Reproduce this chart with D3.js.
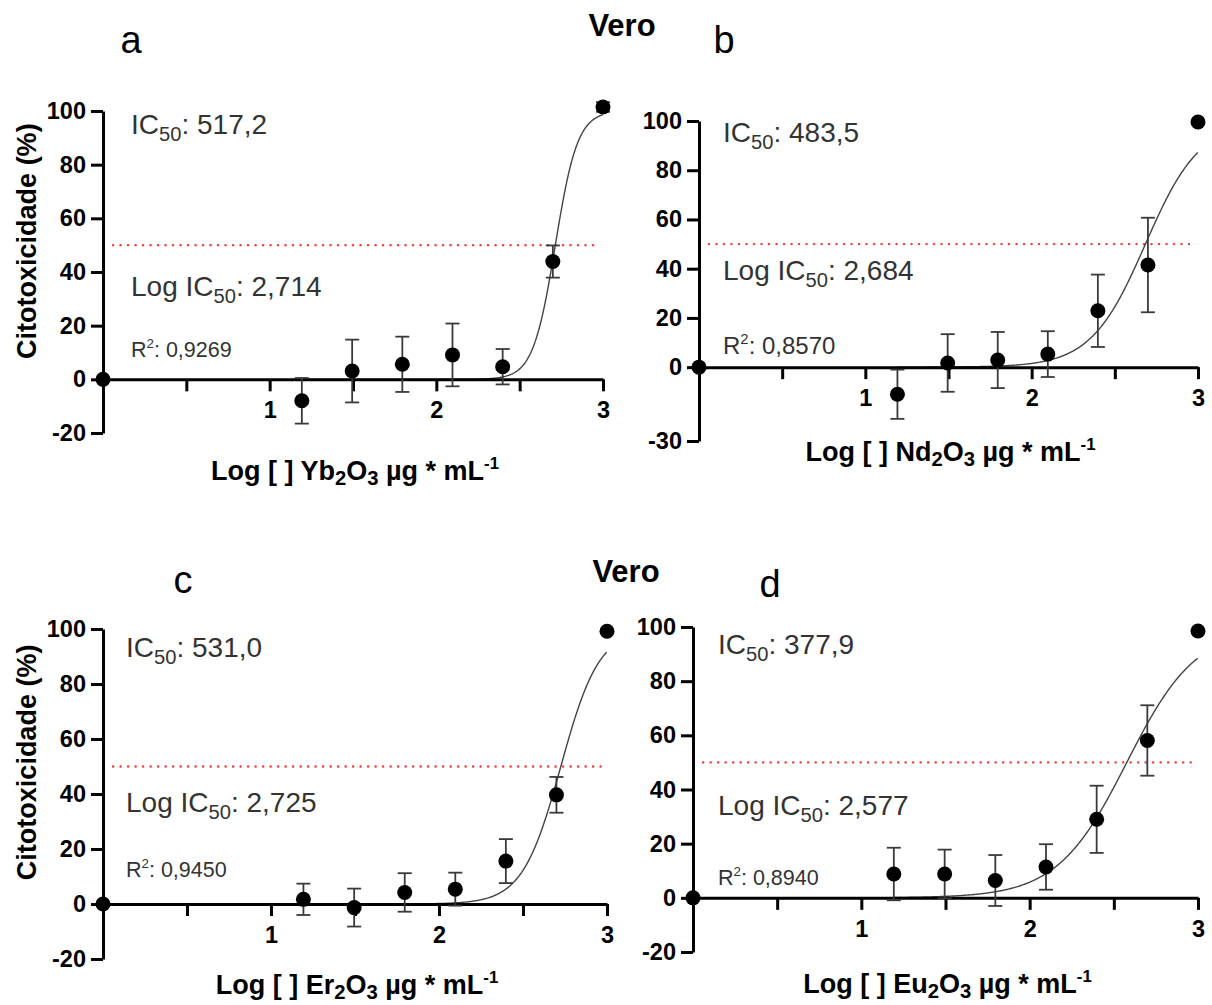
<!DOCTYPE html>
<html>
<head>
<meta charset="utf-8">
<script src="https://cdn.jsdelivr.net/npm/d3@7"></script>
<style>
  html, body { margin: 0; padding: 0; background: #fff; }
  svg { display: block; font-family: "Liberation Sans", Arial, sans-serif; }
</style>
</head>
<body>
<svg id="chart" width="1212" height="1005"></svg>
<script>
// Log10 concentration of each tested dose (0 = untreated control)
const logDose = [0, 1.193, 1.495, 1.796, 2.097, 2.398, 2.699, 3.0];

// Mean cytotoxicity (%) and standard deviation for each oxide
const meanYb = [0, -8.0, 3.1, 5.6, 9.1, 4.7, 43.9, 101.5];
const sdYb   = [0, 8.5, 11.7, 10.3, 11.7, 6.6, 6.0, 1.8];
const meanNd = [0, -11.0, 1.7, 2.9, 5.3, 22.9, 41.5, 99.6];
const sdNd   = [0, 10.0, 11.7, 11.4, 9.3, 14.7, 19.2, 0];
const meanEr = [0, 1.7, -1.3, 4.2, 5.4, 15.6, 39.7, 99.2];
const sdEr   = [0, 5.7, 6.9, 7.0, 6.0, 8.0, 6.5, 0];
const meanEu = [0, 8.8, 8.8, 6.4, 11.4, 29.0, 58.1, 98.5];
const sdEu   = [0, 9.7, 9.0, 9.4, 8.4, 12.4, 13.0, 0];

// Dose-response fit results (bottom 0, top 100)
const logIC50 = [2.714, 2.684, 2.725, 2.577];
const hillSlope = [6.5, 2.65, 3.8, 2.1];
const ic50Text = ["517,2", "483,5", "531,0", "377,9"];
const logIC50Text = ["2,714", "2,684", "2,725", "2,577"];
const r2Text = ["0,9269", "0,8570", "0,9450", "0,8940"];

// Panel labels and axis annotations
const panelLetters = ["a", "b", "c", "d"];
const oxideSymbol = [["Yb", "O"], ["Nd", "O"], ["Er", "O"], ["Eu", "O"]];
const yTicksA = [-20, 0, 20, 40, 60, 80, 100];
const yTicksB = [-30, 0, 20, 40, 60, 80, 100];
const xTicks = [0.5, 1, 1.5, 2, 2.5, 3];
const xTickLabels = ["", "1", "", "2", "", "3"];
const cellLine = "Vero";

const series = [
  { mean: meanYb, sd: sdYb, yTicks: yTicksA },
  { mean: meanNd, sd: sdNd, yTicks: yTicksB },
  { mean: meanEr, sd: sdEr, yTicks: yTicksA },
  { mean: meanEu, sd: sdEu, yTicks: yTicksA }
];

// Frame of each panel on the page
const layout = [
  { x0: 103, x3: 603, yTop: 111, yBot: 433, yAxisTitle: true, letter: [131, 53], vero: [622, 36],
    txt: [131, 134, 296, 357], r2size: 21.5, xTitleY: 480 },
  { x0: 699, x3: 1198, yTop: 121, yBot: 441, yAxisTitle: false, letter: [724, 53], vero: null,
    txt: [723, 142, 280, 354], r2size: 24, xTitleY: 461 },
  { x0: 103, x3: 607, yTop: 629, yBot: 959, yAxisTitle: true, letter: [183, 593], vero: [626, 582],
    txt: [126, 657, 812, 877], r2size: 21.5, xTitleY: 994 },
  { x0: 693, x3: 1198, yTop: 627, yBot: 952, yAxisTitle: false, letter: [770, 597], vero: null,
    txt: [718, 654, 815, 885], r2size: 21.5, xTitleY: 993 }
];

const svg = d3.select("#chart");

// Append a text element made of plain / subscript / superscript runs
function richText(g, x, y, parts, size, opts = {}) {
  const subScale = opts.subScale || 0.72;
  const subDrop = opts.subDrop || 0.24;
  const t = g.append("text")
    .attr("x", x).attr("y", y)
    .attr("font-size", size)
    .attr("font-weight", opts.bold ? "bold" : "normal")
    .attr("fill", opts.fill || "#000")
    .attr("text-anchor", opts.anchor || "start");
  let shift = 0;
  parts.forEach(p => {
    const s = t.append("tspan").text(p.t);
    let target = 0;
    if (p.sub) { s.attr("font-size", size * subScale); target = size * subDrop; }
    else if (p.sup) { s.attr("font-size", size * 0.62); target = -size * 0.42; }
    if (target - shift !== 0) s.attr("dy", target - shift);
    shift = target;
  });
  return t;
}

series.forEach((s, i) => {
  const L = layout[i];
  const g = svg.append("g");
  const x = d3.scaleLinear().domain([0, 3]).range([L.x0, L.x3]);
  const y = d3.scaleLinear().domain([s.yTicks[0], 100]).range([L.yBot, L.yTop]);

  // 50 % reference line
  g.append("line")
    .attr("x1", x(0.06)).attr("x2", x(2.98))
    .attr("y1", y(50)).attr("y2", y(50))
    .attr("stroke", "#f23a3a").attr("stroke-width", 2.4)
    .attr("stroke-linecap", "round")
    .attr("stroke-dasharray", "0.1 7.4");

  // Fitted sigmoidal curve
  const fit = d3.range(1.193, 3.0001, 0.005).map(v => [v, 100 / (1 + Math.pow(10, (logIC50[i] - v) * hillSlope[i]))]);
  g.append("path")
    .attr("d", d3.line().x(d => x(d[0])).y(d => y(d[1]))(fit))
    .attr("fill", "none").attr("stroke", "#444").attr("stroke-width", 1.4);

  // Y axis
  const yAxis = g.append("g")
    .attr("transform", `translate(${L.x0},0)`)
    .call(d3.axisLeft(y).tickValues(s.yTicks).tickSize(12).tickSizeOuter(0).tickPadding(5)
      .tickFormat(d => String(d)));
  // X axis along y = 0
  const xAxis = g.append("g")
    .attr("transform", `translate(0,${y(0)})`)
    .call(d3.axisBottom(x).tickValues(xTicks).tickSize(12).tickSizeOuter(0).tickPadding(10)
      .tickFormat((d, k) => xTickLabels[k]));
  [yAxis, xAxis].forEach(a => {
    a.selectAll("path.domain").attr("stroke", "#000").attr("stroke-width", 3);
    a.selectAll(".tick line").attr("stroke", "#000").attr("stroke-width", 3);
    a.selectAll(".tick text").attr("fill", "#000").attr("font-size", 23.5).attr("font-weight", "bold")
      .attr("font-family", "Liberation Sans, Arial, sans-serif");
  });

  // Error bars
  const pts = logDose.map((d, k) => ({ x: d, m: s.mean[k], sd: s.sd[k] }));
  const eb = g.append("g").attr("stroke", "#3a3a3a").attr("stroke-width", 1.8);
  pts.filter(p => p.sd > 0).forEach(p => {
    eb.append("line").attr("x1", x(p.x)).attr("x2", x(p.x)).attr("y1", y(p.m - p.sd)).attr("y2", y(p.m + p.sd));
    [p.m - p.sd, p.m + p.sd].forEach(v => {
      eb.append("line").attr("x1", x(p.x) - 7).attr("x2", x(p.x) + 7).attr("y1", y(v)).attr("y2", y(v));
    });
  });

  // Mean points
  g.selectAll("circle.pt").data(pts).enter().append("circle")
    .attr("class", "pt")
    .attr("cx", d => x(d.x)).attr("cy", d => y(d.m)).attr("r", 7.5)
    .attr("fill", "#000");

  // Fit annotations
  const [tx, t1, t2, t3] = L.txt;
  richText(g, tx, t1, [{ t: "IC" }, { t: "50", sub: true }, { t: ": " + ic50Text[i] }], 28, { fill: "#333" });
  richText(g, tx, t2, [{ t: "Log IC" }, { t: "50", sub: true }, { t: ": " + logIC50Text[i] }], 28, { fill: "#333" });
  richText(g, tx, t3, [{ t: "R" }, { t: "2", sup: true }, { t: ": " + r2Text[i] }], L.r2size, { fill: "#333" });

  // X axis title
  const [el, ox] = oxideSymbol[i];
  richText(g, (L.x0 + L.x3) / 2 + 2, L.xTitleY, [
    { t: "Log [ ] " + el }, { t: "2", sub: true }, { t: ox }, { t: "3", sub: true },
    { t: " µg * mL" }, { t: "-1", sup: true }
  ], 27, { bold: true, anchor: "middle", subScale: 0.75, subDrop: 0.2 });

  // Y axis title
  if (L.yAxisTitle) {
    g.append("text")
      .attr("transform", `translate(36,${y(51.5)}) rotate(-90)`)
      .attr("text-anchor", "middle")
      .attr("font-size", 27).attr("font-weight", "bold")
      .text("Citotoxicidade (%)");
  }

  // Panel letter and cell-line heading
  g.append("text").attr("x", L.letter[0]).attr("y", L.letter[1])
    .attr("text-anchor", "middle").attr("font-size", 38).text(panelLetters[i]);
  if (L.vero) {
    g.append("text").attr("x", L.vero[0]).attr("y", L.vero[1])
      .attr("text-anchor", "middle").attr("font-size", 31).attr("font-weight", "bold").text(cellLine);
  }
});
</script>
</body>
</html>
